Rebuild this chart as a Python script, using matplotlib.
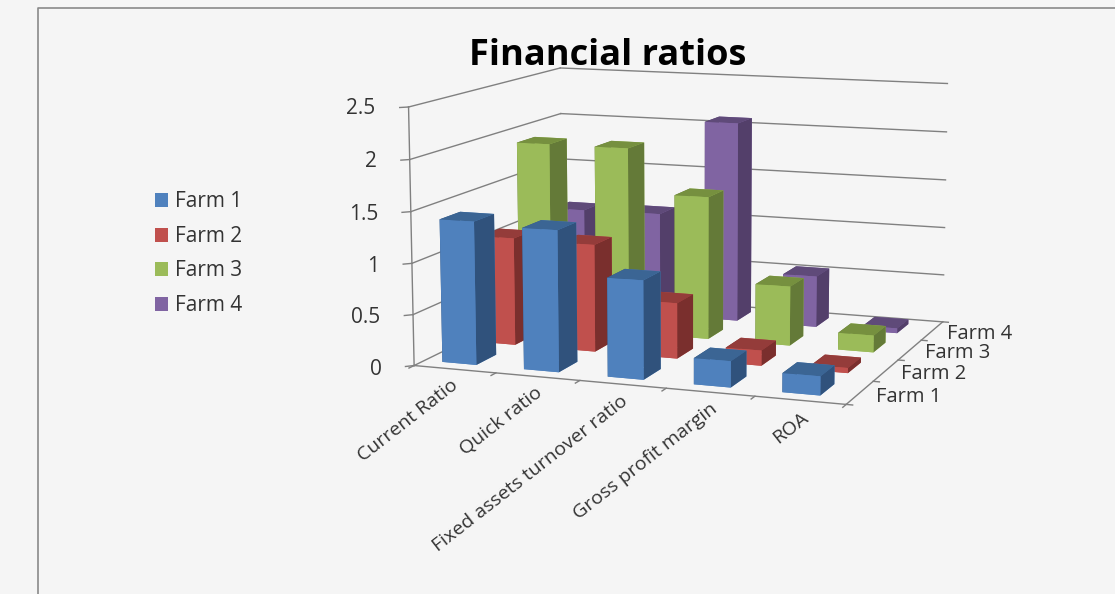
import numpy as np
import matplotlib
matplotlib.use("Agg")
import matplotlib.pyplot as plt
from matplotlib.patches import Patch
from matplotlib.lines import Line2D
from mpl_toolkits.mplot3d import proj3d

categories = ["Current Ratio", "Quick ratio", "Fixed assets turnover ratio", "Gross profit margin", "ROA"]
farms = ["Farm 1", "Farm 2", "Farm 3", "Farm 4"]
farm_1 = [1.40, 1.37, 0.95, 0.25, 0.18]
farm_2 = [1.08, 1.07, 0.55, 0.15, 0.05]
farm_3 = [1.90, 1.90, 1.45, 0.60, 0.17]
farm_4 = [1.07, 1.08, 2.08, 0.53, 0.05]
y_ticks = [0, 0.5, 1, 1.5, 2, 2.5]
colors = ["#4f81bd", "#c0504d", "#9bbb59", "#8064a2"]
top_colors = ["#3b6594", "#943c3a", "#76903f", "#5f4a79"]
side_colors = ["#30527c", "#7a2f2d", "#647a38", "#533f6a"]

plt.rcParams["font.family"] = ["Open Sans", "DejaVu Sans"]
bg = "#f5f5f5"
txt = "#333333"
fig = plt.figure(figsize=(11.15, 5.94), dpi=100, facecolor=bg)
ax = fig.add_axes([0.326, 0.109, 0.57, 1.014], projection="3d", computed_zorder=False)
ax.set_facecolor("none")
ax.set_proj_type("persp", focal_length=0.7)
ax.view_init(elev=10, azim=-70)
ax.set_box_aspect((5, 4.2, 2.9))

n_cat = len(categories)
for j, vals in reversed(list(enumerate([farm_1, farm_2, farm_3, farm_4]))):
    face = [colors[j], top_colors[j], colors[j], colors[j], side_colors[j], side_colors[j]]
    for i, v in enumerate(vals):
        ax.bar3d(i + 0.22, j + 0.25, 0, 0.42, 0.5, v, color=face, shade=False,
                 edgecolor="none", zorder=(4 - j) * 10 + i)

ax.set_xlim(0, n_cat)
ax.set_ylim(0, 4)
ax.set_zlim(0, 2.5)

# walls drawn by hand, the panes stay empty
for axis in (ax.xaxis, ax.yaxis, ax.zaxis):
    axis.set_pane_color((1, 1, 1, 0))
    axis.pane.set_edgecolor("none")
    axis.line.set_color("none")
ax.set_xticks([])
ax.set_yticks([])
ax.set_zticks([])
ax.grid(False)

line_c = "#808080"
for z in y_ticks:
    ax.plot([0, 0], [0, 4], [z, z], color=line_c, lw=1, zorder=1)
    ax.plot([0, n_cat], [4, 4], [z, z], color=line_c, lw=1, zorder=1)
    ax.plot([0, -0.07], [0, -0.07], [z, z], color=line_c, lw=1, zorder=1)
ax.plot([0, 0], [0, 0], [0, 2.5], color=line_c, lw=1, zorder=1)
ax.plot([0, n_cat, n_cat], [0, 0, 4], [0, 0, 0], color=line_c, lw=1, zorder=1)
for i in range(n_cat + 1):
    ax.plot([i, i], [0, -0.12], [0, 0], color=line_c, lw=1, zorder=1)
for j in range(5):
    ax.plot([n_cat, n_cat + 0.07], [j, j], [0, 0], color=line_c, lw=1, zorder=1)

M = ax.get_proj()


def label(x, y, z, s, **kw):
    # 3d text ignores rotation, so place it in the projected 2d coordinates
    px, py, _ = proj3d.proj_transform(x, y, z, M)
    ax.annotate(s, xy=(px, py), xycoords="data", annotation_clip=False, color=txt, **kw)


for z in y_ticks:
    label(-0.26, -0.26, z, f"{z:g}", fontsize=15, ha="right", va="center")
for i, c in enumerate(categories):
    label(i + 0.6, -0.3, 0, c, fontsize=14, rotation=38, ha="right", va="top", rotation_mode="anchor")
for j, f in enumerate(farms):
    label(n_cat + 0.2, j + 0.4, 0, f, fontsize=14.5, ha="left", va="center")

fig.text(0.545, 0.905, "Financial ratios", fontsize=26, fontweight="bold", ha="center", va="center", color="black")

handles = [Patch(facecolor=c, edgecolor="none") for c in colors]
fig.legend(handles, farms, loc="center left", bbox_to_anchor=(0.122, 0.573), frameon=False,
           fontsize=15, labelspacing=0.65, handlelength=0.65, handleheight=0.65, handletextpad=0.3,
           labelcolor=txt)

# outer chart frame on the left and top
fig.add_artist(Line2D([0.034, 0.034, 1], [0, 0.986, 0.986], color="#8a8a8a", lw=1.2))

fig.savefig("out.png", dpi=100, facecolor=bg)
